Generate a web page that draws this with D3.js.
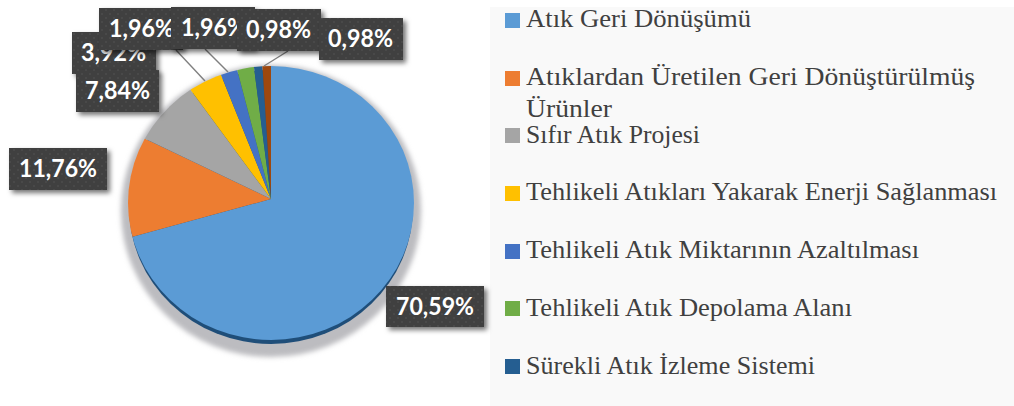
<!DOCTYPE html>
<html><head><meta charset="utf-8">
<script src="https://cdnjs.cloudflare.com/ajax/libs/d3/7.8.5/d3.min.js"></script>
<style>html,body{margin:0;padding:0;background:#fff;overflow:hidden}svg{display:block}</style>
</head><body><svg id="c" width="1014" height="406"></svg>
<script>
const categories = ["Atık Geri Dönüşümü","Atıklardan Üretilen Geri Dönüştürülmüş Ürünler","Sıfır Atık Projesi","Tehlikeli Atıkları Yakarak Enerji Sağlanması","Tehlikeli Atık Miktarının Azaltılması","Tehlikeli Atık Depolama Alanı","Sürekli Atık İzleme Sistemi","Diğer"];
const values = [70.59,11.76,7.84,3.92,1.96,1.96,0.98,0.98];
const colors = ["#5b9bd5","#ed7d31","#a5a5a5","#ffc000","#4472c4","#70ad47","#255e91","#9e480e"];

const legendRows = [
  {i:0,lines:[["Atık Geri Dönüşümü",27,225]],y:13},
  {i:1,lines:[["Atıklardan Üretilen Geri Dönüştürülmüş",85,449],["Ürünler",117,86]],y:71},
  {i:2,lines:[["Sıfır Atık Projesi",143,174]],y:128},
  {i:3,lines:[["Tehlikeli Atıkları Yakarak Enerji Sağlanması",200,471]],y:186},
  {i:4,lines:[["Tehlikeli Atık Miktarının Azaltılması",258,393]],y:244},
  {i:5,lines:[["Tehlikeli Atık Depolama Alanı",316,326]],y:301},
  {i:6,lines:[["Sürekli Atık İzleme Sistemi",374,289]],y:359}
];
const labelBoxes = [
  {i:3,x:72,y:32,w:84,h:42,tx:81},
  {i:2,x:76,y:70,w:83,h:42,tx:85},
  {i:1,x:9,y:148,w:98,h:42,tx:19},
  {i:0,x:386,y:286,w:98,h:41,tx:396},
  {i:4,x:99,y:8,w:84,h:42,tx:109},
  {i:5,x:171,y:7,w:84,h:42,tx:181},
  {i:6,x:237,y:9,w:84,h:42,tx:246},
  {i:7,x:319,y:18,w:84,h:42,tx:328}
];
const leaders = [[176,50,205,81],[205,49,228,72],[288,51,264,66]];

const svg = d3.select("#c");
const defs = svg.append("defs");
defs.append("filter").attr("id","blur").attr("x","-20%").attr("y","-20%").attr("width","140%").attr("height","140%")
  .append("feGaussianBlur").attr("stdDeviation",2.5);
const ds = defs.append("filter").attr("id","bs").attr("x","-20%").attr("y","-20%").attr("width","150%").attr("height","150%");
ds.append("feDropShadow").attr("dx",3).attr("dy",3).attr("stdDeviation",2.5).attr("flood-color","#000").attr("flood-opacity",.55);
const pat = defs.append("pattern").attr("id","dots").attr("width",8).attr("height",8).attr("patternUnits","userSpaceOnUse");
pat.append("rect").attr("width",8).attr("height",8).attr("fill","#404040");
pat.append("circle").attr("cx",2).attr("cy",2).attr("r",.7).attr("fill","#5a5a5a");
pat.append("circle").attr("cx",6).attr("cy",6).attr("r",.7).attr("fill","#5a5a5a");

// legend panel
svg.append("rect").attr("x",490).attr("y",7).attr("width",524).attr("height",399).attr("fill","#f9f9f9");

// pie: slices meet slightly above the centre of the outline (tilted look)
const cx=271, cy=203, rx=143, ry=137, apexY=199;
defs.append("clipPath").attr("id","pieClip").append("ellipse").attr("cx",cx).attr("cy",cy).attr("rx",rx).attr("ry",ry);
svg.append("ellipse").attr("cx",cx).attr("cy",cy+8).attr("rx",rx+7).attr("ry",ry+9).attr("fill","#bcbcc0").attr("filter","url(#blur)");
svg.append("ellipse").attr("cx",cx).attr("cy",cy+4).attr("rx",rx-1).attr("ry",ry).attr("fill","#1f4e79");
const pie = d3.pie().sort(null).value(d=>d);
const arc = d3.arc().innerRadius(0).outerRadius(1);
svg.append("g").attr("clip-path","url(#pieClip)")
  .append("g").attr("transform",`translate(${cx},${apexY}) scale(${rx+10},${ry+10})`)
  .selectAll("path").data(pie(values)).join("path")
  .attr("d",arc).attr("fill",(d,i)=>colors[i]);

// leaders
svg.append("g").selectAll("line").data(leaders).join("line")
  .attr("x1",d=>d[0]).attr("y1",d=>d[1]).attr("x2",d=>d[2]).attr("y2",d=>d[3])
  .attr("stroke","#7f7f7f").attr("stroke-width",1.4);

// labels
const fmt = v => v.toFixed(2).replace(".",",")+"%";
const lg = svg.append("g").selectAll("g").data(labelBoxes).join("g");
lg.append("rect").attr("x",d=>d.x).attr("y",d=>d.y).attr("width",d=>d.w).attr("height",d=>d.h)
  .attr("fill","url(#dots)").attr("filter","url(#bs)");
lg.append("text").attr("x",d=>d.tx).attr("y",d=>d.y+29)
  .attr("font-family","Lato, 'Open Sans', sans-serif").attr("font-weight",700).attr("font-size",24)
  .attr("textLength",d=>fmt(values[d.i]).length===6?78:65).attr("lengthAdjust","spacingAndGlyphs")
  .attr("fill","#fff").text(d=>fmt(values[d.i]));

// legend
const rows = svg.append("g").selectAll("g").data(legendRows).join("g");
rows.append("rect").attr("x",505).attr("y",d=>d.y).attr("width",15).attr("height",15).attr("fill",d=>colors[d.i]);
rows.selectAll("text").data(d=>d.lines).join("text")
  .attr("x",526).attr("y",d=>d[1]).attr("textLength",d=>d[2]).attr("lengthAdjust","spacingAndGlyphs")
  .attr("font-family","'Liberation Serif', serif").attr("font-size",25.5).attr("fill","#404040").text(d=>d[0]);
</script></body></html>
